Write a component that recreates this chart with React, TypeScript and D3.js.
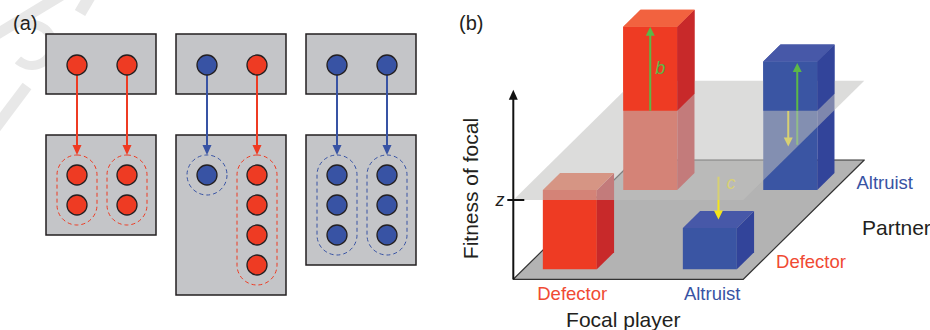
import React from 'react';
import * as d3 from 'd3';

const FONT = '"Liberation Sans", Arial, Helvetica, sans-serif';
const RED = '#ee3b23';
const BLUE = '#3853a4';
const INK = '#231f20';
const GREEN = '#5cb847';
const YELLOW = '#f4e51a';
const LABEL_RED = '#f04a33';

// ---- panel (a): parents and their offspring
const groupIds = ['DD', 'AD', 'AA'];
const parentTypes = [['D', 'D'], ['A', 'D'], ['A', 'A']];
const offspringCounts = [[2, 2], [1, 4], [3, 3]];

// ---- panel (b): fitness of focal by focal / partner type
const focalCats = ['Defector', 'Altruist'];
const partnerCats = ['Defector', 'Altruist'];
// back row first (painter's order)
const barFocal = ['Defector', 'Altruist', 'Defector', 'Altruist'];
const barPartner = ['Altruist', 'Altruist', 'Defector', 'Defector'];
const barFitness = [2.06, 1.62, 1.0, 0.52];
const zLevel = 1.0;
const axisTop = 2.39;

// arrows: b on D/A, b and c on A/A, c on A/D
const arrowFocal = ['Defector', 'Altruist', 'Altruist', 'Altruist'];
const arrowPartner = ['Altruist', 'Altruist', 'Altruist', 'Defector'];
const arrowFrom = [1.0, 0.57, 1.0, 1.06];
const arrowTo = [2.06, 1.6, 0.55, 0.52];
const arrowKind = ['b', 'b', 'c', 'c'];

const typeColor = (t: string) => (t === 'D' || t === 'Defector' ? RED : BLUE);

const barColors: Record<string, { front: string; side: string; top: string }> = {
  Defector: { front: '#ee3b23', side: '#c8292a', top: '#f2623f' },
  Altruist: { front: '#3a55a3', side: '#32449a', top: '#4758a8' },
};

function PanelA() {
  const boxX = d3.scaleBand<string>().domain(groupIds).range([46, 416]).paddingInner(20 / 130);
  const slotX = d3.scalePoint<string>().domain(['0', '1']).range([31, 81]);
  const offY = d3.scaleLinear().domain([0, 1]).range([175, 205]);
  const topY = 34;
  const parentY = 65;
  const botY = 135;
  const r = 10;

  return (
    <g>
      {/* faint watermark */}
      <g stroke="#e8e8e8" fill="none">
        <line x1={70} y1={-10} x2={-6} y2={36} strokeWidth={11} />
        <line x1={90} y1={-4} x2={80} y2={13} strokeWidth={12} />
        <path d={d3.arc()({ innerRadius: 16, outerRadius: 25, startAngle: -0.1, endAngle: 3.9 }) as string}
          transform="translate(32,45)" fill="#e8e8e8" stroke="none" />
        <line x1={27} y1={86} x2={-6} y2={130} strokeWidth={11} />
      </g>
      <text x={13} y={30} fontFamily={FONT} fontSize={20} fill={INK}>(a)</text>
      {groupIds.map((id, gi) => {
        const x0 = boxX(id)!;
        const w = boxX.bandwidth();
        const maxN = d3.max(offspringCounts[gi])!;
        return (
          <g key={id}>
            <rect x={x0} y={topY} width={w} height={60} fill="#c4c5c8" stroke={INK} strokeWidth={1.5} />
            <rect x={x0} y={botY} width={w} height={40 + 30 * maxN} fill="#c4c5c8" stroke={INK} strokeWidth={1.5} />
            {parentTypes[gi].map((t, si) => {
              const cx = x0 + slotX(String(si))!;
              const col = typeColor(t);
              const n = offspringCounts[gi][si];
              const tip = 155;
              return (
                <g key={si}>
                  <line x1={cx} y1={parentY + r} x2={cx} y2={tip - 9} stroke={col} strokeWidth={2} />
                  <path d={`M${cx - 4.5},${tip - 10}L${cx + 4.5},${tip - 10}L${cx},${tip}Z`} fill={col} />
                  {n === 1 ? (
                    <circle cx={cx} cy={offY(0)} r={20} fill="none" stroke={col} strokeWidth={1} strokeDasharray="4 3" />
                  ) : (
                    <rect x={cx - 20} y={offY(0) - 20} width={40} height={offY(n - 1) - offY(0) + 40} rx={20}
                      fill="none" stroke={col} strokeWidth={1} strokeDasharray="4 3" />
                  )}
                  {d3.range(n).map((k) => (
                    <circle key={k} cx={cx} cy={offY(k)} r={r} fill={col} stroke={INK} strokeWidth={1.3} />
                  ))}
                  <circle cx={cx} cy={parentY} r={r} fill={col} stroke={INK} strokeWidth={1.3} />
                </g>
              );
            })}
          </g>
        );
      })}
    </g>
  );
}

function PanelB() {
  const x0 = 513.3;
  const y0 = 279.3;
  const kx = 1.014;
  const floorU = 230;
  const floorV = 119.3;
  const halfW = 27;
  const halfD = 8.5;

  const focal = d3.scalePoint<string>().domain(focalCats).range([46.4, 186.4]);
  const partner = d3.scalePoint<string>().domain(partnerCats).range([18.5, 97.8]);
  const hs = d3.scaleLinear().domain([0, 1]).range([0, 79.3]);

  const P = (u: number, v: number, h: number): [number, number] => [x0 + u + v * kx, y0 - v - hs(h)];
  const poly = (pts: [number, number][]) => 'M' + pts.map((p) => p.join(',')).join('L') + 'Z';

  const box = (f: string, p: string, h0: number, h1: number, key: string) => {
    const u0 = focal(f)! - halfW, u1 = focal(f)! + halfW;
    const v0 = partner(p)! - halfD, v1 = partner(p)! + halfD;
    const c = barColors[f];
    return (
      <g key={key}>
        <path d={poly([P(u0, v0, h0), P(u1, v0, h0), P(u1, v0, h1), P(u0, v0, h1)])} fill={c.front} />
        <path d={poly([P(u1, v0, h0), P(u1, v1, h0), P(u1, v1, h1), P(u1, v0, h1)])} fill={c.side} />
        <path d={poly([P(u0, v0, h1), P(u1, v0, h1), P(u1, v1, h1), P(u0, v1, h1)])} fill={c.top} />
      </g>
    );
  };

  const arrowPos = (i: number): [number, number] => {
    const f = arrowFocal[i], p = arrowPartner[i];
    // arrows on the tall back bars sit on the front face, the c arrow in the middle of the top
    const onFront = i < 3;
    const v = onFront ? partner(p)! - halfD : partner(p)!;
    const du = i === 1 ? 7 : i === 2 ? -2 : 0;
    return [focal(f)! + du, v];
  };

  const arrow = (i: number, from: number, key: string) => {
    const [u, v] = arrowPos(i);
    const col = arrowKind[i] === 'b' ? GREEN : YELLOW;
    const [x, ya] = P(u, v, from);
    const [, yb] = P(u, v, arrowTo[i]);
    const dir = yb < ya ? -1 : 1;
    const base = yb - dir * 9;
    return (
      <g key={key}>
        <line x1={x} y1={ya} x2={x} y2={base + dir * 1} stroke={col} strokeWidth={2} />
        <path d={`M${x - 4.5},${base}L${x + 4.5},${base}L${x},${yb}Z`} fill={col} />
      </g>
    );
  };

  const floor = [P(0, 0, 0), P(floorU, 0, 0), P(floorU, floorV, 0), P(0, floorV, 0)];
  const plane = [P(0, 0, zLevel), P(floorU, 0, zLevel), P(floorU, floorV, zLevel), P(0, floorV, zLevel)];
  const [ax, ay0] = P(0, 0, 0);
  const [, ay1] = P(0, 0, axisTop);
  const [, zy] = P(0, 0, zLevel);

  const bLabel = P(focal('Defector')!, partner('Altruist')! - halfD, 1.55);
  const cLabel = P(focal('Altruist')!, partner('Defector')!, 0.92);

  return (
    <g fontFamily={FONT}>
      <text x={459} y={30} fontSize={20} fill={INK}>(b)</text>
      <path d={poly(floor)} fill="#b3b3b3" stroke="#333" strokeWidth={1.2} strokeLinejoin="round" />
      {barFocal.map((f, i) => box(f, barPartner[i], 0, barFitness[i], 'bar' + i))}
      {/* arrows that lie under the z plane */}
      {arrow(1, arrowFrom[1], 'a1')}
      {arrow(2, arrowFrom[2], 'a2')}
      {arrow(3, arrowFrom[3], 'a3')}
      <text x={cLabel[0] + 8} y={cLabel[1] + 1} fontSize={18} fontStyle="italic" fill={YELLOW}>c</text>
      {/* translucent plane at fitness z */}
      <path d={poly(plane)} fill="rgb(192,191,189)" fillOpacity={0.55} />
      {/* parts of the bars that rise above z */}
      {barFocal.map((f, i) => (barFitness[i] > zLevel ? box(f, barPartner[i], zLevel, barFitness[i], 'up' + i) : null))}
      {arrow(0, arrowFrom[0], 'a0')}
      {arrow(1, zLevel, 'a1up')}
      <text x={bLabel[0] + 5} y={bLabel[1] + 7} fontSize={18} fontStyle="italic" fill={GREEN}>b</text>
      {/* fitness axis */}
      <line x1={ax} y1={ay0} x2={ax} y2={ay1 + 9} stroke="#111" strokeWidth={2} />
      <path d={`M${ax - 4.5},${ay1 + 10}L${ax + 4.5},${ay1 + 10}L${ax},${ay1}Z`} fill="#111" />
      <line x1={ax - 6} y1={zy} x2={ax + 11} y2={zy} stroke="#111" strokeWidth={2} />
      <text x={500} y={zy + 6} fontSize={18} fontStyle="italic" textAnchor="middle" fill={INK}>z</text>
      <text transform={`translate(478,${(ay0 + ay1) / 2 + 4}) rotate(-90)`} fontSize={21} textAnchor="middle" fill={INK}>
        Fitness of focal
      </text>
      {focalCats.map((c) => (
        <text key={c} x={x0 + focal(c)! + 12.5} y={300} fontSize={18.5} textAnchor="middle" fill={c === 'Defector' ? LABEL_RED : BLUE}>
          {c}
        </text>
      ))}
      <text x={x0 + 110} y={327} fontSize={21} textAnchor="middle" fill={INK}>Focal player</text>
      {partnerCats.map((c) => {
        const [px, py] = P(floorU, partner(c)!, 0);
        return (
          <text key={c} x={px + 14} y={py + 7} fontSize={18.5} fill={c === 'Defector' ? LABEL_RED : BLUE}>
            {c}
          </text>
        );
      })}
      <text x={862} y={235} fontSize={21} fill={INK}>Partner</text>
    </g>
  );
}

export default function App() {
  return (
    <svg width={930} height={330} style={{ position: 'absolute', left: 0, top: 0, background: '#fff' }}>
      <rect width={930} height={330} fill="#fff" />
      <PanelA />
      <PanelB />
    </svg>
  );
}
